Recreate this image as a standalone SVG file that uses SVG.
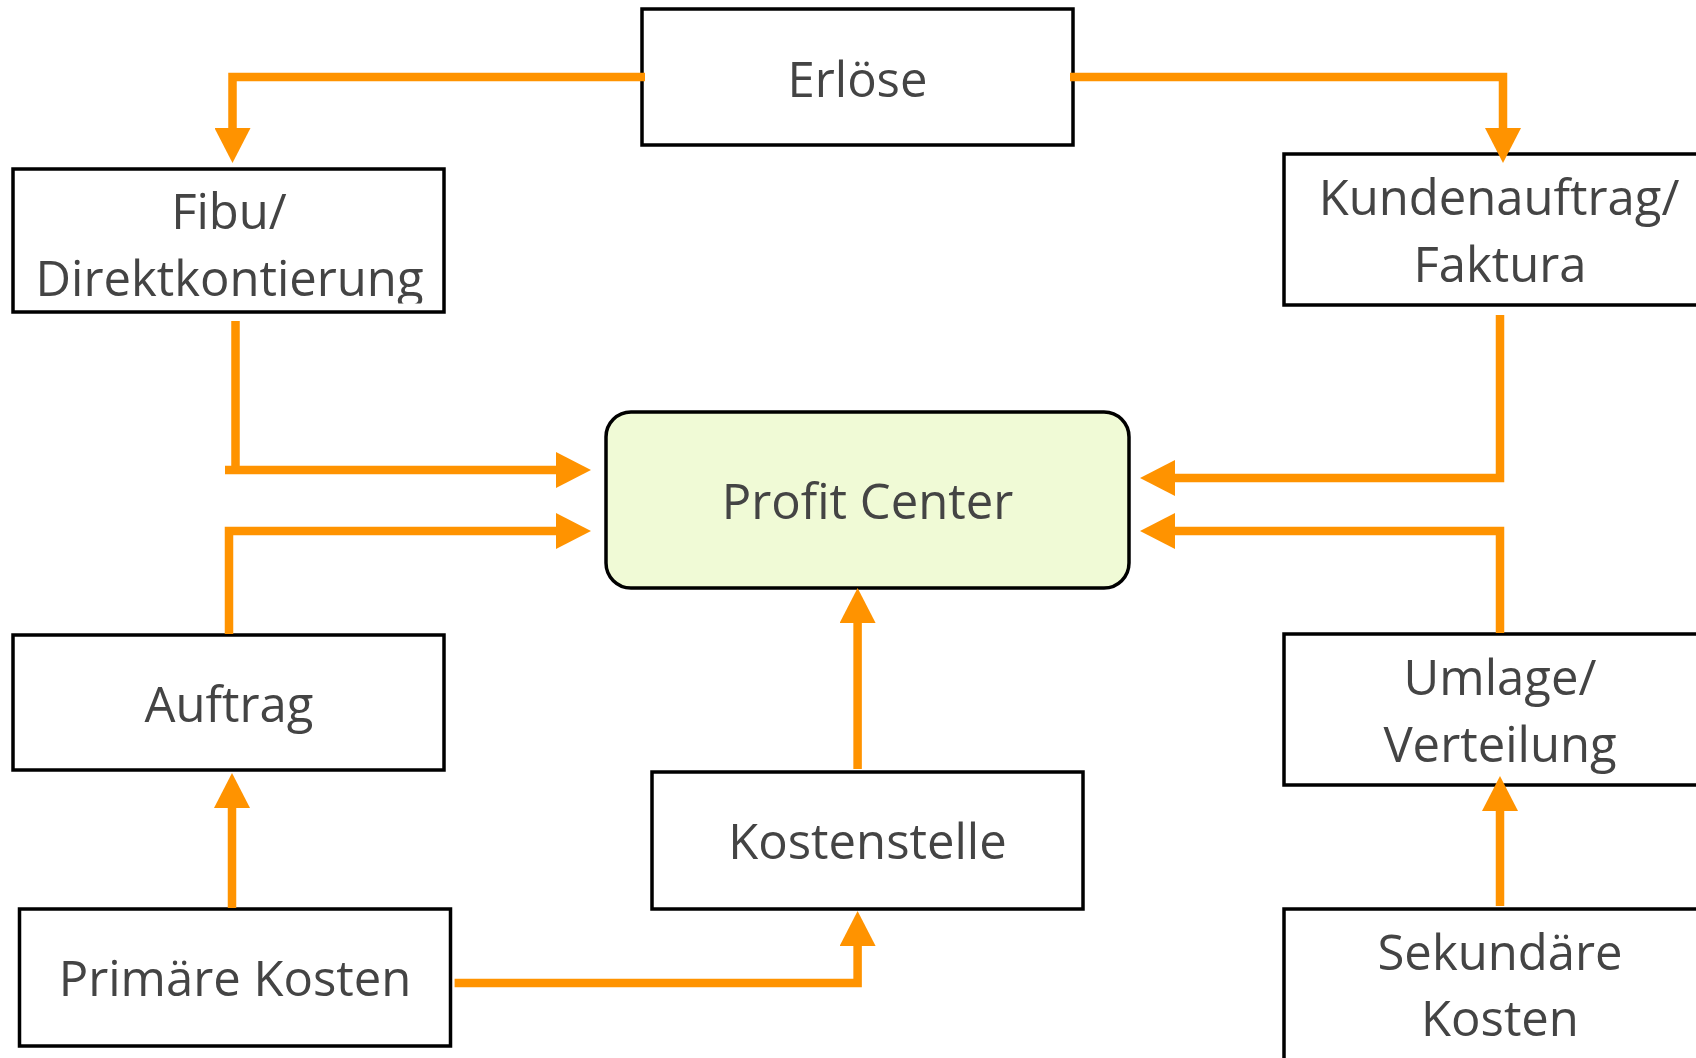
<svg xmlns="http://www.w3.org/2000/svg" width="1696" height="1058" viewBox="0 0 1696 1058">
<style>
.box{fill:#ffffff;stroke:#000000;stroke-width:3.5}
.pc{fill:#F0FAD6;stroke:#000000;stroke-width:3.5}
.lbl{font-family:"Open Sans","Noto Sans",sans-serif;font-size:49px;fill:#444444;text-anchor:middle}
.conn{fill:none;stroke:#FF9300;stroke-width:8.5;stroke-linejoin:miter;stroke-linecap:butt;marker-end:url(#arr)}
</style>
<defs>
<marker id="arr" markerUnits="userSpaceOnUse" markerWidth="36" markerHeight="36" refX="0" refY="18" orient="auto" viewBox="0 0 36 36">
<path d="M0,0 L35,18 L0,36 z" fill="#FF9300"/>
</marker>
<clipPath id="clipFibu"><rect x="13" y="169" width="431" height="134.5"/></clipPath>
</defs>
<rect width="1696" height="1058" fill="#ffffff"/>

<g id="erloese">
<rect class="box" x="642" y="9" width="431" height="136"/>
<text class="lbl" x="857.5" y="97">Erlöse</text>
</g>
<g id="fibu">
<rect class="box" x="13" y="169" width="431" height="143"/>
<g clip-path="url(#clipFibu)">
<text class="lbl" x="229" y="229">Fibu/</text>
<text class="lbl" x="229.5" y="296">Direktkontierung</text>
</g>
</g>
<g id="kundenauftrag">
<rect class="box" x="1284" y="154" width="431" height="151"/>
<text class="lbl" x="1499" y="215">Kundenauftrag/</text>
<text class="lbl" x="1500" y="282">Faktura</text>
</g>
<g id="profitcenter">
<rect class="pc" x="606" y="412" width="523" height="176" rx="25" ry="25"/>
<text class="lbl" x="867.5" y="519">Profit Center</text>
</g>
<g id="auftrag">
<rect class="box" x="13" y="635" width="431" height="135"/>
<text class="lbl" x="229" y="722">Auftrag</text>
</g>
<g id="umlage">
<rect class="box" x="1284" y="634" width="431" height="151"/>
<text class="lbl" x="1500" y="695">Umlage/</text>
<text class="lbl" x="1500" y="762">Verteilung</text>
</g>
<g id="kostenstelle">
<rect class="box" x="652" y="772" width="431" height="137"/>
<text class="lbl" x="867.5" y="859">Kostenstelle</text>
</g>
<g id="primaere">
<rect class="box" x="19.5" y="909" width="431" height="137"/>
<text class="lbl" x="235" y="996">Primäre Kosten</text>
</g>
<g id="sekundaere">
<rect class="box" x="1284" y="909" width="431" height="160"/>
<text class="lbl" x="1500" y="970">Sekundäre</text>
<text class="lbl" x="1500" y="1036">Kosten</text>
</g>

<g id="connectors">
<path class="conn" d="M645,77 H232.5 V128"/>
<path class="conn" d="M1070,77 H1503 V128"/>
<path class="conn" d="M235.5,321 V474 M225,470 H556"/>
<path class="conn" d="M229,634 V531 H556"/>
<path class="conn" d="M1500,315 V478 H1175"/>
<path class="conn" d="M1500,633 V531 H1175"/>
<path class="conn" d="M857.6,769 V623"/>
<path class="conn" d="M232,908 V808"/>
<path class="conn" d="M454.6,983 H857.6 V946"/>
<path class="conn" d="M1500,906 V811"/>
</g>
</svg>
